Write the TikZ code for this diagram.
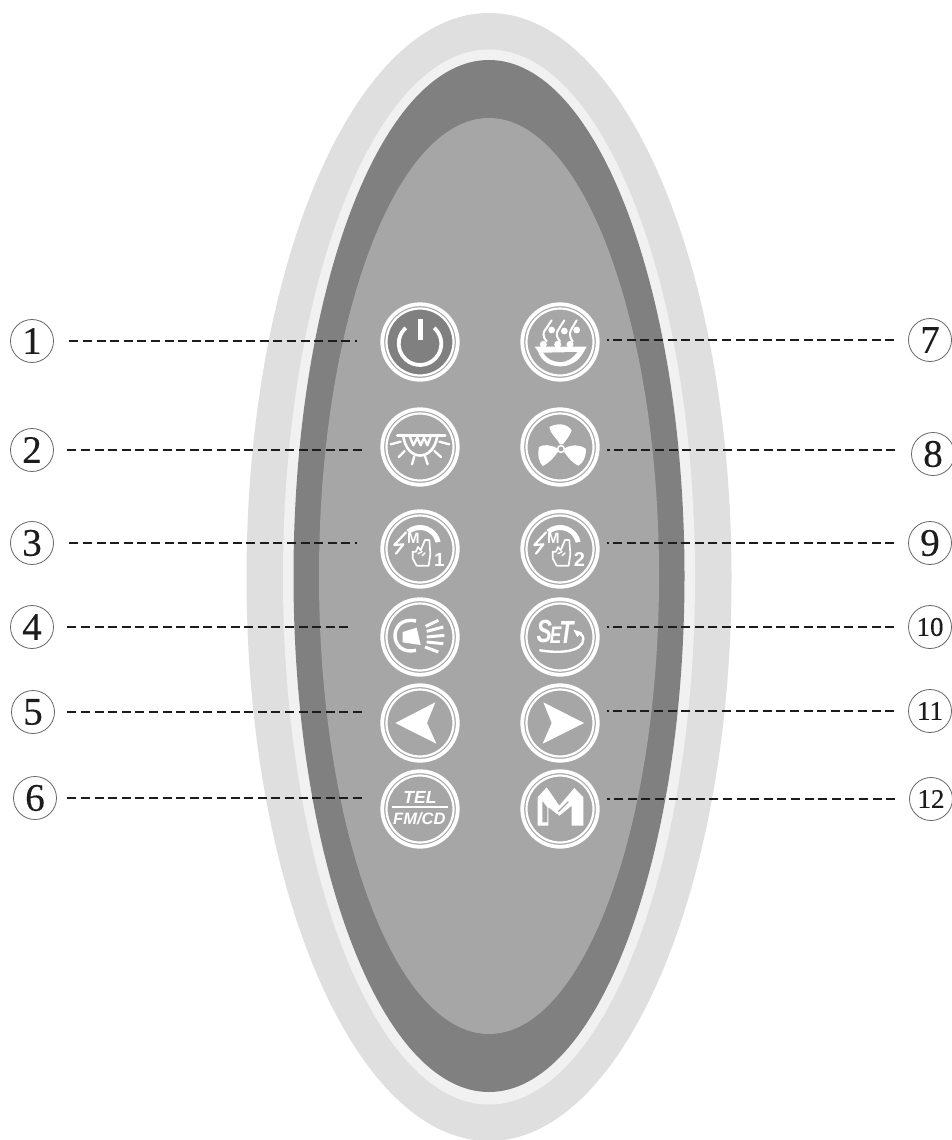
\documentclass[tikz,border=0pt]{standalone}
\usepackage{fontspec}
\newfontfamily\iconfont{Liberation Sans}
\newfontfamily\numfont[FakeBold=0.35]{Liberation Serif}
\definecolor{shellA}{HTML}{DFDFDF}
\definecolor{shellB}{HTML}{F1F1F1}
\definecolor{shellC}{HTML}{808080}
\definecolor{panel}{HTML}{A6A6A6}
\definecolor{ink}{HTML}{1C1C1C}
\tikzset{
  numlab/.style={circle,draw=black!60,line width=0.8pt,minimum size=43pt,inner sep=0pt,text=ink},
  big/.style={font=\numfont\fontsize{39}{39}\selectfont},
  small/.style={font=\numfont\fontsize{27}{27}\selectfont},
  leader/.style={draw=ink,line width=2pt,dash pattern=on 9pt off 4.6pt},
  btnouter/.style={circle,draw=white,line width=3.8pt,minimum size=75.5pt,inner sep=0pt},
  btninner/.style={circle,draw=white,line width=2.2pt,minimum size=67pt,inner sep=0pt},
  iconunit/.style={x=0.3333pt,y=0.3333pt},
  wline/.style={draw=white,line width=#1,line cap=round,line join=round},
  wline/.default=2pt,
  itext/.style={text=white,inner sep=0pt}
}
\newcommand{\btn}[3]{%
  \node[btnouter] (#1) at (#2,#3) {};
  \node[btninner] (#1i) at (#1) {};}
\newcommand{\handicon}[3]{%
  \begin{scope}[shift={(#1)},iconunit]
    \fill[white] (0,9) ++(12:21pt) arc[start angle=12,end angle=130,radius=21pt]
      -- ++(-50:5pt) arc[start angle=130,end angle=12,radius=16pt] -- cycle;
    \draw[wline=2.2pt] (-42,50) -- (-77,12) -- (-50,14) -- (-72,-14);
    \draw[wline=1.7pt] (-10,-50) -- (-22,-28) -- (-22,-8) -- (-12,-8) -- (-6,6) -- (2,-4) -- (15,27) -- (28,27) -- (31,-15) -- (26,-50) -- cycle;
    \draw[wline=1.4pt] (-6,-14) -- (6,-8) (6,-20) -- (15,-12);
    \node[itext,font=\iconfont\bfseries\fontsize{15}{15}\selectfont] (h#2m) at (-20,31) {M};
    \node[itext,font=\iconfont\bfseries\fontsize{#3}{#3}\selectfont] (h#2d) at (58,-33) {#2};
  \end{scope}}
\begin{document}
\begin{tikzpicture}[x=1pt,y=-1pt]
\useasboundingbox (0,0) rectangle (952,1140);
\fill[white] (0,0) rectangle (952,1140);
\fill[shellA] (489,577) ellipse [x radius=242.5pt,y radius=564pt];
\fill[shellB] (489,577) ellipse [x radius=206pt,y radius=527.5pt];
\fill[shellC] (489,576) ellipse [x radius=195.5pt,y radius=516pt];
\fill[panel]  (489,576) ellipse [x radius=170pt,y radius=458pt];

% labels
\node[numlab,big] (l1) at (32,341) {1};
\node[numlab,big] (l2) at (32,450) {2};
\node[numlab,big] (l3) at (32,543) {3};
\node[numlab,big] (l4) at (32,627) {4};
\node[numlab,big] (l5) at (33,712) {5};
\node[numlab,big] (l6) at (35,798) {6};
\node[numlab,big] (l7) at (930,340) {7};
\node[numlab,big] (l8) at (933,454) {8};
\node[numlab,big] (l9) at (930,543) {9};
\node[numlab,small] (l10) at (930,627) {10};
\node[numlab,small] (l11) at (930,711) {11};
\node[numlab,small] (l12) at (931,799) {12};

% buttons
\node[btnouter] (b1) at (420,342) {};
\node[btninner,fill=shellC] (b1i) at (b1) {};
\btn{b2}{420}{447}
\btn{b3}{420}{549}
\btn{b4}{420}{637}
\btn{b5}{420}{723}
\btn{b6}{420}{809}
\btn{b7}{560}{342}
\btn{b8}{560}{447}
\btn{b9}{560}{549}
\btn{b10}{560}{637}
\btn{b11}{560}{723}
\btn{b12}{560}{809}

% leaders
\draw[leader,shorten <=15.5pt,shorten >=23pt] (l1.east) -- (l1.east -| b1.west);
\draw[leader,shorten <=13.5pt,shorten >=18pt] (l2.east) -- (l2.east -| b2.west);
\draw[leader,shorten <=15.5pt,shorten >=23pt] (l3.east) -- (l3.east -| b3.west);
\draw[leader,shorten <=13.5pt,shorten >=29pt] (l4.east) -- (l4.east -| b4.west);
\draw[leader,shorten <=12.5pt,shorten >=18pt] (l5.east) -- (l5.east -| b5.west);
\draw[leader,shorten <=10.5pt,shorten >=18pt] (l6.east) -- (l6.east -| b6.west);
\draw[leader,shorten <=14pt,shorten >=7pt] (l7.west) -- (l7.west -| b7.east);
\coordinate (l8a) at (l8.west |- 0,450);
\draw[leader,shorten <=16pt,shorten >=7pt] (l8a) -- (l8a -| b8.east);
\draw[leader,shorten <=14pt,shorten >=7pt] (l9.west) -- (l9.west -| b9.east);
\draw[leader,shorten <=14pt,shorten >=7pt] (l10.west) -- (l10.west -| b10.east);
\draw[leader,shorten <=14pt,shorten >=7pt] (l11.west) -- (l11.west -| b11.east);
\draw[leader,shorten <=14pt,shorten >=7pt] (l12.west) -- (l12.west -| b12.east);

% power
\begin{scope}[shift={(b1)},iconunit]
  \draw[wline=3.8pt,line cap=butt] (0,-5) ++(48:21.3pt) arc[start angle=48,end angle=-228,radius=21.3pt];
  \draw[wline=5pt,line cap=butt] (0,68) -- (0,5);
\end{scope}

% lamp
\begin{scope}[shift={(b2)},iconunit]
  \draw[wline=3.2pt] (-68,35) -- (75,35);
  \draw[wline=2.6pt] (-50,33) .. controls (-40,-45) and (40,-45) .. (52,33);
  \draw[wline=2.3pt] (-30,30) -- (-20,5) -- (-8,28) -- (2,5) -- (12,28) -- (22,5) -- (32,30);
  \draw[wline=2.3pt] (-88,8) -- (-58,16) (58,16) -- (88,8)
    (-64,-30) -- (-46,-12) (43,-12) -- (63,-30)
    (-24,-52) -- (-17,-28) (15,-28) -- (23,-52);
\end{scope}

% horn
\begin{scope}[shift={(b4)},iconunit]
  \draw[wline=3.4pt,line cap=butt] (-12,48) .. controls (-60,58) and (-75,25) .. (-75,3)
     .. controls (-75,-20) and (-55,-50) .. (-12,-40);
  \fill[white] (-52,15) -- (-10,28) -- (2,-24) -- (-52,-16) -- cycle;
  \draw[wline=3pt,line cap=butt] (17,32) -- (55,50) (20,17) -- (70,30) (20,0) -- (73,5) (20,-15) -- (70,-20) (15,-30) -- (55,-45);
\end{scope}

% hands
\handicon{b3}{1}{19}
\handicon{b9}{2}{20}

% left / right arrows
\begin{scope}[shift={(b5)},iconunit]
  \fill[white] (-74,0) -- (46,62) -- (21,0) -- (49,-62) -- cycle;
\end{scope}
\begin{scope}[shift={(b11)},iconunit]
  \fill[white] (72,0) -- (-50,62) -- (-25,0) -- (-52,-62) -- cycle;
\end{scope}

% TEL
\begin{scope}[shift={(b6)},iconunit]
  \node[itext,font=\iconfont\bfseries\itshape\fontsize{17.5}{17.5}\selectfont] (tel) at (0,35) {TEL};
  \draw[wline=2pt,line cap=butt] (-85,5) -- (85,5);
  \node[itext,font=\iconfont\bfseries\itshape\fontsize{16.5}{16.5}\selectfont] (fm) at (-2,-30) {FM/CD};
\end{scope}

% steam bowl
\begin{scope}[shift={(b7)},iconunit]
  \fill[white] (-76,-14) -- (80,-14) -- (72,-28) .. controls (55,-62) and (25,-73) .. (2,-73)
    .. controls (-25,-73) and (-55,-62) .. (-66,-28) -- cycle;
  \fill[panel] (-50,-32) -- (52,-30) .. controls (35,-52) and (18,-60) .. (2,-60)
    .. controls (-20,-60) and (-38,-52) .. (-50,-32) -- cycle;
  \fill[white] (-50,-7) circle[radius=3.5pt] (-7,-7) circle[radius=3.5pt] (30,-7) circle[radius=3.5pt]
    (-25,36) circle[radius=3.4pt] (13,33) circle[radius=3.4pt] (50,36) circle[radius=3.4pt];
  \draw[wline=2pt] (-40,2) .. controls (-55,20) and (-50,30) .. (-42,40) .. controls (-35,50) and (-35,55) .. (-25,65);
  \draw[wline=2pt] (0,2) .. controls (-15,20) and (-10,30) .. (-3,40) .. controls (5,50) and (5,55) .. (13,65);
  \draw[wline=2pt] (38,2) .. controls (25,20) and (30,30) .. (35,40) .. controls (42,50) and (42,55) .. (50,65);
\end{scope}

% fan
\begin{scope}[shift={(b8)},iconunit]
  \fill[white] (0,8) .. controls (-12,30) and (-30,40) .. (-32,60) .. controls (-10,72) and (20,72) .. (35,50)
    .. controls (30,35) and (18,20) .. (8,8) -- cycle;
  \fill[white] (-8,-4) .. controls (-30,8) and (-50,8) .. (-63,0) .. controls (-68,-25) and (-64,-45) .. (-52,-57)
    .. controls (-35,-50) and (-18,-32) .. (-6,-14) -- cycle;
  \fill[white] (14,-4) .. controls (35,8) and (60,8) .. (78,-6) .. controls (78,-30) and (70,-48) .. (55,-56)
    .. controls (40,-50) and (24,-32) .. (12,-14) -- cycle;
  \filldraw[fill=panel,draw=white,line width=1.5pt] (3,-6) circle[radius=3.4pt];
\end{scope}

% SET
\begin{scope}[shift={(b10)},iconunit]
  \node[itext,xscale=0.72,font=\iconfont\bfseries\itshape\fontsize{32}{32}\selectfont] (set) at (-15,17) {S\hspace{-3pt}\raisebox{-1pt}{\fontsize{24}{24}\selectfont E}\hspace{-3pt}\raisebox{-1pt}{\fontsize{32}{32}\selectfont T}};
  \draw[wline=2.4pt] (-60,-40) .. controls (0,-50) and (70,-45) .. (70,-5) .. controls (70,5) and (60,12) .. (50,14);
  \fill[white] (40,22) -- (66,14) -- (52,0) -- cycle;
\end{scope}

% M
\begin{scope}[shift={(b12)},iconunit]
  \fill[white,even odd rule]
    (-67,35) -- (-40,65) -- (-2,10) -- (43,63) -- (70,35) -- (70,-50) -- (35,-50) -- (35,10) -- (-2,-20) -- (-35,5) -- (-35,-50) -- (-67,-50) -- cycle
    (-53,25) -- (-38,5) -- (-38,-40) -- (-53,-40) -- cycle;
  \draw[draw=panel,line width=1.2pt] (-5,-8) -- (25,22);
\end{scope}
\end{tikzpicture}
\end{document}
